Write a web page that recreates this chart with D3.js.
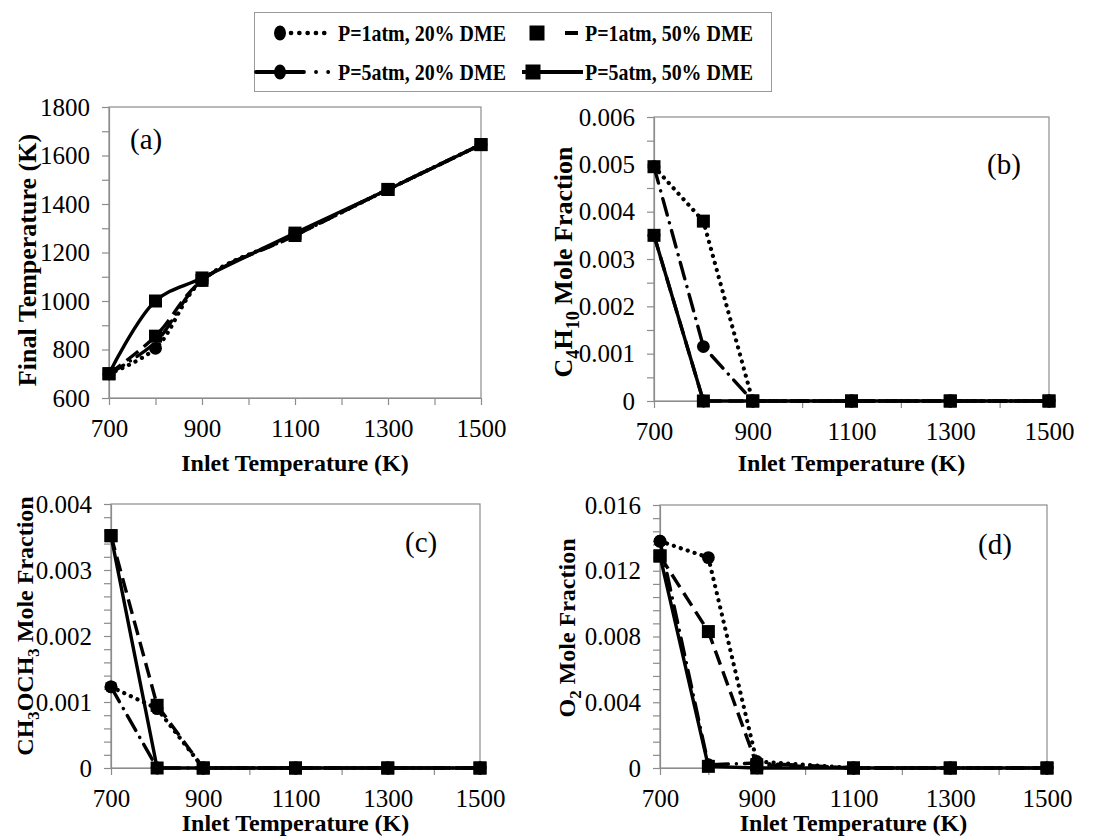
<!DOCTYPE html>
<html><head><meta charset="utf-8">
<script src="https://cdn.jsdelivr.net/npm/d3@7"></script>
<style>
body{margin:0;background:#fff}
svg text{font-family:"Liberation Serif","Times New Roman","DejaVu Serif",serif;}
</style>
</head><body>
<svg id="chart" width="1102" height="837"></svg>
<script>
// ---------- DATA ----------
const inletTemps = [700, 800, 900, 1100, 1300, 1500];
const seriesNames = ["P=1atm, 20% DME", "P=1atm, 50% DME", "P=5atm, 20% DME", "P=5atm, 50% DME"];

// (a) Final temperature (K)
const finalT_1atm20 = [700, 805, 1085, 1272, 1460, 1645];
const finalT_1atm50 = [700, 855, 1085, 1270, 1460, 1645];
const finalT_5atm20 = [700, 830, 1085, 1272, 1460, 1645];
const finalT_5atm50 = [700, 1000, 1095, 1280, 1460, 1645];

// (b) C4H10 mole fraction
const c4h10_1atm20 = [0.00495, 0.0038, 0, 0, 0, 0];
const c4h10_1atm50 = [0.0035, 0, 0, 0, 0, 0];
const c4h10_5atm20 = [0.00495, 0.00115, 0, 0, 0, 0];
const c4h10_5atm50 = [0.0035, 0, 0, 0, 0, 0];

// (c) CH3OCH3 mole fraction
const dme_1atm20 = [0.00123, 0.0009, 0, 0, 0, 0];
const dme_1atm50 = [0.00352, 0.00095, 0, 0, 0, 0];
const dme_5atm20 = [0.00123, 0, 0, 0, 0, 0];
const dme_5atm50 = [0.00352, 0, 0, 0, 0, 0];

// (d) O2 mole fraction
const o2_1atm20 = [0.0138, 0.0128, 0.0004, 0, 0, 0];
const o2_1atm50 = [0.0129, 0.0083, 0.0002, 0, 0, 0];
const o2_5atm20 = [0.0138, 0.0002, 0.0003, 0, 0, 0];
const o2_5atm50 = [0.0129, 0.0001, 0, 0, 0, 0];

// Tick values / labels
const xTickVals = [700, 800, 900, 1000, 1100, 1200, 1300, 1400, 1500];
const xTickLabels = [700, 900, 1100, 1300, 1500];
const yTicksA = [600, 700, 800, 900, 1000, 1100, 1200, 1300, 1400, 1500, 1600, 1700, 1800];
const yLabelsA = [600, 800, 1000, 1200, 1400, 1600, 1800];
const yTicksB = [0, 0.0005, 0.001, 0.0015, 0.002, 0.0025, 0.003, 0.0035, 0.004, 0.0045, 0.005, 0.0055, 0.006];
const yLabelsB = [0, 0.001, 0.002, 0.003, 0.004, 0.005, 0.006];
const yTicksC = [0, 0.0002, 0.0004, 0.0006, 0.0008, 0.001, 0.0012, 0.0014, 0.0016, 0.0018, 0.002, 0.0022, 0.0024, 0.0026, 0.0028, 0.003, 0.0032, 0.0034, 0.0036, 0.0038, 0.004];
const yLabelsC = [0, 0.001, 0.002, 0.003, 0.004];
const yTicksD = [0, 0.0008, 0.0016, 0.0024, 0.0032, 0.004, 0.0048, 0.0056, 0.0064, 0.0072, 0.008, 0.0088, 0.0096, 0.0104, 0.0112, 0.012, 0.0128, 0.0136, 0.0144, 0.0152, 0.016];
const yLabelsD = [0, 0.004, 0.008, 0.012, 0.016];

// ---------- STYLE ----------
const serif = '"Liberation Serif","Times New Roman","DejaVu Serif",serif';
const gray = "#8c8c8c";
const lineStyles = [
  {dash: "0.1,7.2", cap: "round", w: 4.2},     // dotted
  {dash: "15,7", cap: "butt", w: 3.4},          // dashed
  {dash: "17,8,0.1,8", cap: "round", w: 3.4},   // dash-dot
  {dash: null, cap: "butt", w: 3.4}             // solid
];

const svg = d3.select("#chart");
const fmt3 = d => (Math.abs(d) < 1e-12 ? "0" : d3.format(".3f")(d));
const has = (arr, v) => arr.some(a => Math.abs(a - v) < 1e-9);

const panels = [
  {left: 109, right: 481, top: 107, bottom: 398, yDomain: [600, 1800], yTicks: yTicksA, yLabels: yLabelsA,
   fmt: d => String(d), values: [finalT_1atm20, finalT_1atm50, finalT_5atm20, finalT_5atm50],
   markers: ["circle", "square", "none", "square"], order: [2, 0, 1, 3], smooth: true,
   label: "(a)", labelX: 130, labelY: 149,
   yTitle: [["Final Temperature (K)", 0]], yTitleSize: 26, yTitleX: 36, yTitleY: 260, xTitleY: 471},
  {left: 654, right: 1049, top: 117, bottom: 401, yDomain: [0, 0.006], yTicks: yTicksB, yLabels: yLabelsB,
   fmt: fmt3, values: [c4h10_1atm20, c4h10_1atm50, c4h10_5atm20, c4h10_5atm50],
   markers: ["square", "circle", "circle", "square"], order: [3, 2, 1, 0], smooth: false,
   label: "(b)", labelX: 987, labelY: 174,
   yTitle: [["C", 0], ["4", 1], ["H", 0], ["10", 1], [" Mole Fraction", 0]], yTitleSize: 26, yTitleX: 572, yTitleY: 262, xTitleY: 471},
  {left: 111, right: 480, top: 504, bottom: 768, yDomain: [0, 0.004], yTicks: yTicksC, yLabels: yLabelsC,
   fmt: fmt3, values: [dme_1atm20, dme_1atm50, dme_5atm20, dme_5atm50],
   markers: ["circle", "square", "circle", "square"], order: [0, 2, 1, 3], smooth: false,
   label: "(c)", labelX: 405, labelY: 552,
   yTitle: [["CH", 0], ["3", 1], ["OCH", 0], ["3", 1], [" Mole Fraction", 0]], yTitleSize: 24, yTitleX: 33, yTitleY: 626, xTitleY: 831},
  {left: 660, right: 1047, top: 505, bottom: 768, yDomain: [0, 0.016], yTicks: yTicksD, yLabels: yLabelsD,
   fmt: fmt3, values: [o2_1atm20, o2_1atm50, o2_5atm20, o2_5atm50],
   markers: ["circle", "square", "circle", "square"], order: [0, 2, 1, 3], smooth: false,
   label: "(d)", labelX: 978, labelY: 554,
   yTitle: [["O", 0], ["2", 1], [" Mole Fraction", 0]], yTitleSize: 24, yTitleX: 575, yTitleY: 628, xTitleY: 831}
];

function drawMarker(g, type, cx, cy, big) {
  const s = big ? 15 : 13;
  if (type === "square") {
    g.append("rect").attr("x", cx - s / 2).attr("y", cy - s / 2).attr("width", s).attr("height", s).attr("fill", "#000");
  } else if (type === "circle") {
    g.append("ellipse").attr("cx", cx).attr("cy", cy).attr("rx", big ? 6 : 6.4).attr("ry", big ? 7.5 : 6.4).attr("fill", "#000");
  }
}

panels.forEach(p => {
  const x = d3.scaleLinear().domain([700, 1500]).range([p.left, p.right]);
  const y = d3.scaleLinear().domain(p.yDomain).range([p.bottom, p.top]);
  const g = svg.append("g");

  g.append("rect").attr("x", p.left).attr("y", p.top).attr("width", p.right - p.left).attr("height", p.bottom - p.top)
    .attr("fill", "none").attr("stroke", gray).attr("stroke-width", 1.2);

  const ya = g.append("g").attr("transform", `translate(${p.left},0)`)
    .call(d3.axisLeft(y).tickValues(p.yTicks).tickSize(7).tickSizeOuter(0).tickPadding(12)
      .tickFormat(d => has(p.yLabels, d) ? p.fmt(d) : ""));
  const xa = g.append("g").attr("transform", `translate(0,${p.bottom})`)
    .call(d3.axisBottom(x).tickValues(xTickVals).tickSize(7).tickSizeOuter(0).tickPadding(14)
      .tickFormat(d => has(xTickLabels, d) ? String(d) : ""));
  [ya, xa].forEach(a => {
    a.attr("font-family", null).attr("font-size", null);
    a.selectAll("path,line").attr("stroke", gray).attr("stroke-width", 1.2);
    a.selectAll("text").style("font-family", serif).attr("font-size", 25).attr("fill", "#000");
  });

  const lineGen = d3.line().x((d, i) => x(inletTemps[i])).y(d => y(d))
    .curve(p.smooth ? d3.curveCatmullRom.alpha(0.5) : d3.curveLinear);
  p.order.forEach(si => {
    const st = lineStyles[si];
    const path = g.append("path").datum(p.values[si]).attr("d", lineGen)
      .attr("fill", "none").attr("stroke", "#000").attr("stroke-width", st.w)
      .attr("stroke-linecap", st.cap).attr("stroke-linejoin", "round");
    if (st.dash) path.attr("stroke-dasharray", st.dash);
  });
  p.order.forEach(si => {
    p.values[si].forEach((v, i) => drawMarker(g, p.markers[si], x(inletTemps[i]), y(v), false));
  });

  g.append("text").attr("x", p.labelX).attr("y", p.labelY).style("font-family", serif)
    .attr("font-size", 29).text(p.label);

  g.append("text").attr("x", (p.left + p.right) / 2).attr("y", p.xTitleY).attr("text-anchor", "middle")
    .style("font-family", serif).attr("font-weight", "bold").attr("font-size", 24).text("Inlet Temperature (K)");

  const fs = p.yTitleSize;
  const sub = Math.round(fs * 0.25);
  const yt = g.append("text").attr("transform", `translate(${p.yTitleX},${p.yTitleY}) rotate(-90)`)
    .attr("text-anchor", "middle").style("font-family", serif).attr("font-weight", "bold").attr("font-size", fs);
  let prevSub = 0;
  p.yTitle.forEach(([s, isSub]) => {
    const ts = yt.append("tspan").text(s);
    if (isSub) ts.attr("font-size", fs * 0.7);
    const shift = (isSub ? sub : 0) - (prevSub ? sub : 0);
    if (shift) ts.attr("dy", shift);
    prevSub = isSub;
  });
});

// ---------- LEGEND ----------
const lg = svg.append("g");
lg.append("rect").attr("x", 254.5).attr("y", 12.5).attr("width", 517).attr("height", 79)
  .attr("fill", "#fff").attr("stroke", "#999").attr("stroke-width", 1);
const legendItems = [
  {si: 0, x0: 291, x1: 329, mx: 280, marker: "circle", tx: 338, ty: 33},
  {si: 1, x0: 537, x1: 580, mx: 537, marker: "square", tx: 585, ty: 33},
  {si: 2, x0: 256, x1: 336, mx: 280, marker: "circle", tx: 338, ty: 72},
  {si: 3, x0: 522, x1: 583, mx: 533, marker: "square", tx: 585, ty: 72}
];
legendItems.forEach(it => {
  const st = lineStyles[it.si];
  const l = lg.append("line").attr("x1", it.x0).attr("x2", it.x1).attr("y1", it.ty).attr("y2", it.ty)
    .attr("stroke", "#000").attr("stroke-width", st.w + 0.4).attr("stroke-linecap", st.cap);
  if (it.si === 1) l.attr("stroke-dasharray", "0,28,13,20");
  else if (it.si === 2) l.attr("stroke-dasharray", "48,12,0.1,12,0.1,40");
  else if (st.dash) l.attr("stroke-dasharray", "0.1,8.2");
  drawMarker(lg, it.marker, it.mx, it.ty, true);
  lg.append("text").attr("x", it.tx).attr("y", it.ty + 8).style("font-family", serif).attr("font-weight", "bold")
    .attr("font-size", 24).attr("textLength", 168).attr("lengthAdjust", "spacingAndGlyphs")
    .text(seriesNames[it.si]);
});
</script>
</body></html>
